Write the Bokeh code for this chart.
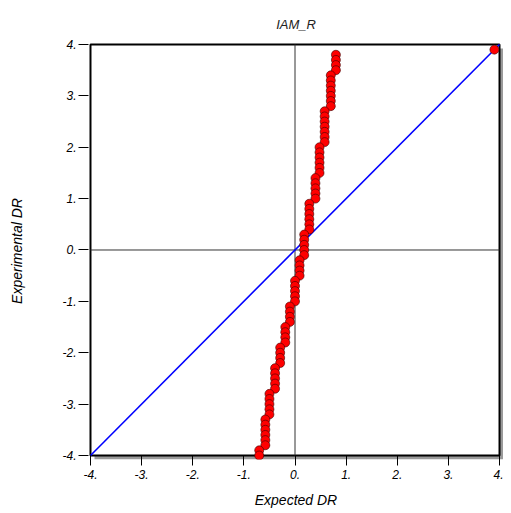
from bokeh.plotting import figure
from bokeh.models import Range1d, FixedTicker
from bokeh.embed import file_html
from bokeh.resources import INLINE

# ---- data ----
expected = [
    0.80, 0.80, 0.80, 0.80,
    0.70, 0.70, 0.70, 0.70, 0.70, 0.70, 0.70,
    0.58, 0.58, 0.58, 0.58, 0.58, 0.58, 0.58,
    0.48, 0.48, 0.48, 0.48, 0.48, 0.48,
    0.40, 0.40, 0.40, 0.40, 0.40,
    0.28, 0.28, 0.28, 0.28, 0.28, 0.28,
    0.18, 0.18, 0.18, 0.18, 0.18,
    0.09, 0.09, 0.09, 0.09,
    0.00, 0.00, 0.00, 0.00, 0.00,
    -0.10, -0.10, -0.10, -0.10,
    -0.19, -0.19, -0.19, -0.19,
    -0.29, -0.29, -0.29, -0.29,
    -0.39, -0.39, -0.39, -0.39, -0.39,
    -0.50, -0.50, -0.50, -0.50, -0.50,
    -0.58, -0.58, -0.58, -0.58, -0.58, -0.58,
    -0.70, -0.70,
    3.90,
]
experimental = [
    3.8, 3.7, 3.6, 3.5,
    3.4, 3.3, 3.2, 3.1, 3.0, 2.9, 2.8,
    2.7, 2.6, 2.5, 2.4, 2.3, 2.2, 2.1,
    2.0, 1.9, 1.8, 1.7, 1.6, 1.5,
    1.4, 1.3, 1.2, 1.1, 1.0,
    0.9, 0.8, 0.7, 0.6, 0.5, 0.4,
    0.3, 0.2, 0.1, 0.0, -0.1,
    -0.2, -0.3, -0.4, -0.5,
    -0.6, -0.7, -0.8, -0.9, -1.0,
    -1.1, -1.2, -1.3, -1.4,
    -1.5, -1.6, -1.7, -1.8,
    -1.9, -2.0, -2.1, -2.2,
    -2.3, -2.4, -2.5, -2.6, -2.7,
    -2.8, -2.9, -3.0, -3.1, -3.2,
    -3.3, -3.4, -3.5, -3.6, -3.7, -3.8,
    -3.9, -4.0,
    3.9,
]
ref_x = [-4.0, 4.0]
ref_y = [-4.0, 4.0]
axis_min, axis_max = -4.0, 4.0
tick_values = [-4, -3, -2, -1, 0, 1, 2, 3, 4]
tick_labels = ["-4.", "-3.", "-2.", "-1.", "0.", "1.", "2.", "3.", "4."]

FONT = "Liberation Sans"

p = figure(width=503, height=510, output_backend="svg", toolbar_location=None,
           x_range=Range1d(-4.039, 4.078), y_range=Range1d(-4.078, 4.039),
           min_border_left=88, min_border_right=0, min_border_top=42,
           min_border_bottom=51, outline_line_color=None,
           background_fill_color="white", border_fill_color="white")

p.title.text = "IAM_R"
p.title.text_font = FONT
p.title.text_font_style = "italic"
p.title.text_font_size = "13px"
p.title.text_color = "#222222"
p.title.align = "center"
p.title.standoff = 21

p.xgrid.visible = False
p.ygrid.visible = False

# shadow and frame
p.quad(left=[axis_min + 0.078], right=[axis_max + 0.078],
       bottom=[axis_min - 0.078], top=[axis_max - 0.078],
       fill_color="#9a9a9a", line_color=None)
p.quad(left=[axis_min], right=[axis_max], bottom=[axis_min], top=[axis_max],
       fill_color="white", line_color="black", line_width=2)

# zero lines
p.segment(x0=[0, axis_min], y0=[axis_min, 0], x1=[0, axis_max], y1=[axis_max, 0],
          line_color="#333333", line_width=1)

# reference line
p.line(ref_x, ref_y, line_color="#0000ff", line_width=1.6)

# points
p.scatter(expected, experimental, size=9, fill_color="#ff0000",
          line_color="#3a0000", line_width=0.6)

for ax in (p.xaxis[0], p.yaxis[0]):
    ax.ticker = FixedTicker(ticks=tick_values)
    ax.major_label_overrides = {v: s for v, s in zip(tick_values, tick_labels)}
    ax.axis_line_color = None
    ax.minor_tick_line_color = None
    ax.major_tick_line_color = "black"
    ax.major_label_text_font = FONT
    ax.major_label_text_font_style = "italic"
    ax.major_label_text_font_size = "12px"
    ax.major_label_text_color = "black"
    ax.axis_label_text_font = FONT
    ax.axis_label_text_font_style = "italic"
    ax.axis_label_text_font_size = "14px"
    ax.axis_label_text_color = "black"

p.xaxis.axis_label = "Expected DR"
p.xaxis.major_tick_out = 6
p.xaxis.major_tick_in = 4
p.xaxis.major_label_standoff = 4
p.xaxis.axis_label_standoff = 10

p.yaxis.axis_label = "Experimental DR"
p.yaxis.major_tick_out = 10
p.yaxis.major_tick_in = 0
p.yaxis.major_label_standoff = 2
p.yaxis.axis_label_standoff = 34

open("out.html", "w").write(file_html(p, INLINE))
